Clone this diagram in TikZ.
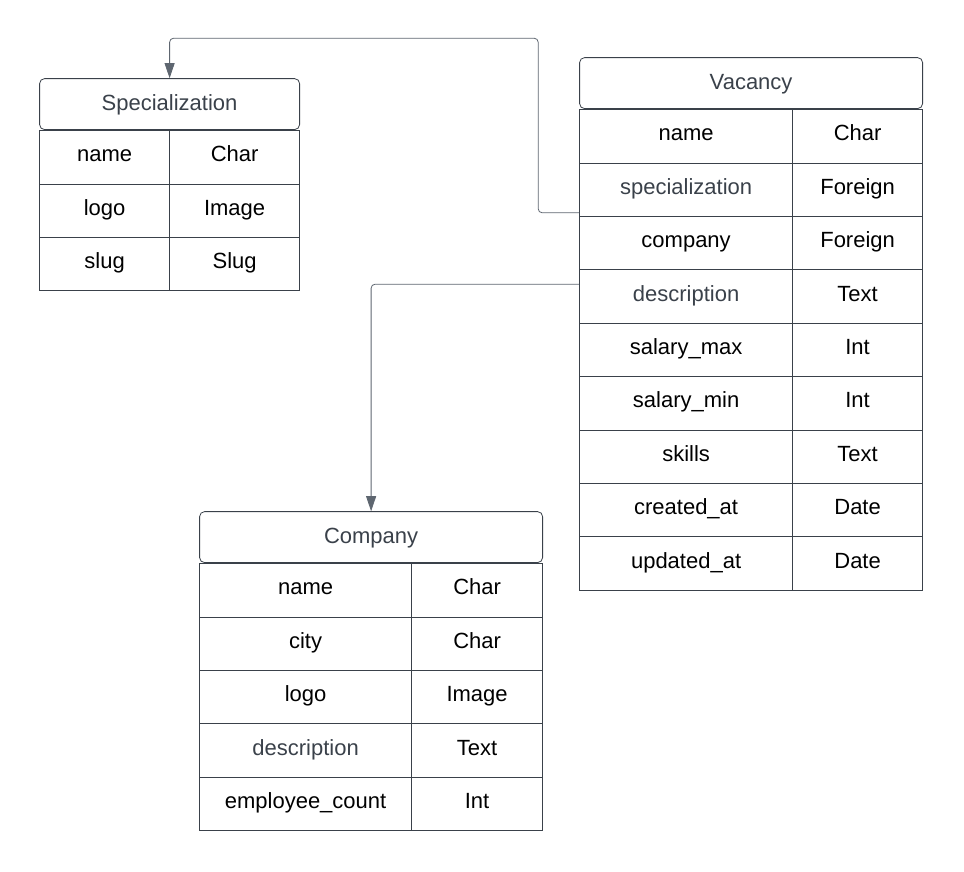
\documentclass[tikz,border=0pt]{standalone}
\usepackage{fontspec}
\setmainfont{Liberation Sans}
\usetikzlibrary{
  arrows.meta,
  matrix,
  positioning
}
\definecolor{inkgray}{HTML}{3A414A}
\definecolor{linkgray}{HTML}{5E6670}

\begin{document}
\begin{tikzpicture}[x=1pt,y=-1pt,
      header/.style={
         rectangle,
         rounded corners=5pt,
         draw=inkgray,
         line width=0.8pt,
         text=inkgray,
         font=\fontsize{22}{26}\selectfont,
         minimum height=51pt,
         inner sep=0pt,
         text height=17pt,
         text depth=4pt
      },
      cell/.style={
         rectangle,
         draw=inkgray,
         line width=0.8pt,
         font=\fontsize{22}{26}\selectfont,
         minimum height=53.4pt,
         inner sep=0pt,
         anchor=center,
         text height=15pt,
         text depth=6pt
      },
      dim/.style={text=inkgray},
      table/.style={matrix of nodes,inner sep=0pt,column sep=-0.8pt,row sep=-0.8pt,nodes={cell}},
      link/.style={draw=linkgray,line width=0.8pt,rounded corners=4pt,-{Triangle[length=15pt,width=10pt]}}
    ]
    \useasboundingbox (0,0) rectangle (964,871);
    % Specialization
    \matrix (spec) [table, anchor=north west,
       column 1/.style={nodes={minimum width=130pt}},
       column 2/.style={nodes={minimum width=130pt}}] at (39,130) {
       name & Char \\
       logo & Image \\
       slug & Slug \\
    };
    \node (spec-head) [header, minimum width=260pt, anchor=south] at (spec.north) {Specialization};
    % Vacancy
    \matrix (vac) [table, anchor=north west,
       column 1/.style={nodes={minimum width=213pt}},
       column 2/.style={nodes={minimum width=130pt}}] at (579,109) {
       name & Char \\
       |[dim]| specialization & Foreign \\
       company & Foreign \\
       |[dim]| description & Text \\
       salary\_max & Int \\
       salary\_min & Int \\
       skills & Text \\
       created\_at & Date \\
       updated\_at & Date \\
    };
    \node (vac-head) [header, minimum width=343pt, anchor=south] at (vac.north) {Vacancy};
    % Company
    \matrix (comp) [table, anchor=north west,
       column 1/.style={nodes={minimum width=212pt}},
       column 2/.style={nodes={minimum width=131pt}}] at (199,563) {
       name & Char \\
       city & Char \\
       logo & Image \\
       |[dim]| description & Text \\
       employee\_count & Int \\
    };
    \node (comp-head) [header, minimum width=343pt, anchor=south] at (comp.north) {Company};
    % foreign keys
    \draw[link] ([yshift=4pt]vac-2-1.south west) -- ++(-41,0) |- ([yshift=40pt]spec-head.north) -- (spec-head.north);
    \draw[link] ([yshift=-14pt]vac-3-1.south west) -| (comp-head.north);
\end{tikzpicture}
\end{document}
